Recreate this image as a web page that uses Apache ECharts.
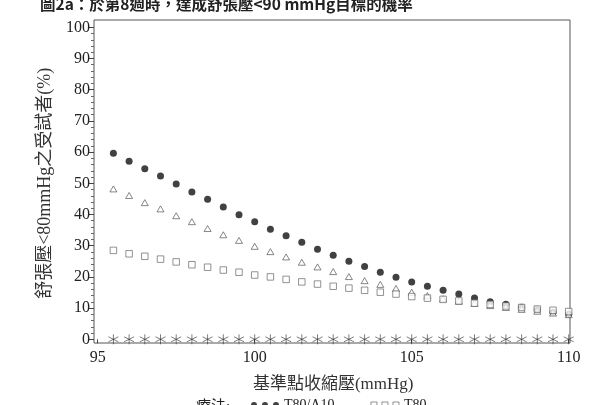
<!DOCTYPE html>
<html>
<head>
<meta charset="utf-8">
<script src="https://cdn.jsdelivr.net/npm/echarts@6/dist/echarts.min.js"></script>
<style>
  html, body { margin: 0; padding: 0; background: #fff; }
  #chart { width: 606px; height: 405px; }
</style>
</head>
<body>
<div id="chart"></div>
<script>
// Baseline systolic pressure (mmHg)
const baselineSBP = [95.5, 96, 96.5, 97, 97.5, 98, 98.5, 99, 99.5, 100,
                     100.5, 101, 101.5, 102, 102.5, 103, 103.5, 104, 104.5, 105,
                     105.5, 106, 106.5, 107, 107.5, 108, 108.5, 109, 109.5, 110];

// Percentage of subjects reaching DBP < 80 mmHg, per treatment
const t80a10 = [59.6, 57.1, 54.7, 52.3, 49.8, 47.2, 44.9, 42.4, 39.9, 37.7,
                35.3, 33.2, 31.1, 28.9, 26.9, 25.0, 23.3, 21.5, 19.9, 18.4,
                17.0, 15.7, 14.5, 13.2, 12.0, 11.2, 10.3, 9.5, 8.7, 8.0];
const a10 = [48.2, 46.1, 43.8, 41.8, 39.6, 37.7, 35.5, 33.5, 31.7, 29.8,
             28.1, 26.4, 24.7, 23.2, 21.7, 20.1, 18.8, 17.6, 16.3, 15.1,
             14.0, 13.0, 12.2, 11.5, 10.8, 10.2, 9.6, 9.0, 8.4, 7.9];
const t80 = [28.5, 27.4, 26.6, 25.7, 24.8, 23.9, 23.1, 22.2, 21.5, 20.6,
             20.0, 19.2, 18.4, 17.7, 17.0, 16.4, 15.7, 15.1, 14.5, 13.7,
             13.2, 12.8, 12.3, 11.6, 11.2, 10.7, 10.2, 9.7, 9.3, 8.9];
const placebo = [0, 0, 0, 0, 0, 0, 0, 0, 0, 0,
                 0, 0, 0, 0, 0, 0, 0, 0, 0, 0,
                 0, 0, 0, 0, 0, 0, 0, 0, 0, 0];

const xTicks = [95, 100, 105, 110];
const yTicks = [0, 10, 20, 30, 40, 50, 60, 70, 80, 90, 100];

const titleText = '圖2a：於第8週時，達成舒張壓<90 mmHg目標的機率';
const xName = '基準點收縮壓(mmHg)';
const yName = '舒張壓<80mmHg之受試者(%)';
const legendLead = '療法:';

const serif = '"Liberation Serif", "Noto Sans CJK TC", serif';
const pair = (ys) => baselineSBP.map((x, i) => [x, ys[i]]);

const starPath = 'path://M0,-5L0,5M-4.33,-2.5L4.33,2.5M-4.33,2.5L4.33,-2.5';
const dotsIcon = 'path://M0,3a3,3 0 1,0 6,0a3,3 0 1,0 -6,0z M11,3a3,3 0 1,0 6,0a3,3 0 1,0 -6,0z M22,3a3,3 0 1,0 6,0a3,3 0 1,0 -6,0z';
const boxesIcon = 'path://M0,0h6v6h-6z M11,0h6v6h-6z M22,0h6v6h-6z';

const chart = echarts.init(document.getElementById('chart'), null, { renderer: 'canvas' });

chart.setOption({
  animation: false,
  backgroundColor: '#fff',
  title: [
    {
      text: titleText,
      left: 40, top: -4, padding: 0,
      textStyle: { fontFamily: '"Noto Sans CJK TC", sans-serif', fontSize: 15.5, fontWeight: 'bold', color: '#222' }
    },
    {
      text: legendLead,
      left: 196, top: 400, padding: 0,
      textStyle: { fontFamily: serif, fontSize: 15, fontWeight: 'normal', color: '#222' }
    }
  ],
  legend: {
    data: [
      { name: 'T80/A10', icon: dotsIcon, itemStyle: { color: '#111' } },
      { name: 'T80', icon: boxesIcon, itemStyle: { color: '#fff', borderColor: '#555', borderWidth: 0.8 } }
    ],
    left: 251, top: 398, padding: 0,
    itemWidth: 28, itemHeight: 6, itemGap: 36,
    textStyle: { fontFamily: serif, fontSize: 14, color: '#222' }
  },
  grid: [
    // outer frame
    { left: 94, right: 36, top: 20, bottom: 62, show: true, borderColor: '#555', borderWidth: 1, backgroundColor: 'transparent' },
    // data area
    { left: 97.7, right: 37.3, top: 27.3, bottom: 65.7, show: false }
  ],
  xAxis: [
    { gridIndex: 0, type: 'value', min: 0, max: 1, show: false },
    {
      gridIndex: 1, type: 'value', min: xTicks[0], max: xTicks[xTicks.length - 1], interval: 5,
      offset: 3.7,
      axisLine: { show: false },
      axisTick: { show: true, length: 4, lineStyle: { color: '#444' } },
      splitLine: { show: false },
      axisLabel: { fontFamily: serif, fontSize: 16, color: '#222', margin: 7 },
      name: xName, nameLocation: 'middle', nameGap: 33,
      nameTextStyle: { fontFamily: serif, fontSize: 17, color: '#333' }
    }
  ],
  yAxis: [
    { gridIndex: 0, type: 'value', min: 0, max: 1, show: false },
    {
      gridIndex: 1, type: 'value', min: yTicks[0], max: yTicks[yTicks.length - 1], interval: 10,
      offset: 3.7,
      axisLine: { show: false },
      axisTick: { show: true, length: 5, lineStyle: { color: '#444' } },
      minorTick: { show: true, splitNumber: 5, length: 3, lineStyle: { color: '#666' } },
      splitLine: { show: false },
      minorSplitLine: { show: false },
      axisLabel: { fontFamily: serif, fontSize: 16, color: '#222', margin: 4 },
      name: yName, nameLocation: 'middle', nameGap: 40, nameRotate: 90,
      nameTextStyle: { fontFamily: serif, fontSize: 18, color: '#333' }
    }
  ],
  series: [
    {
      name: 'T80/A10', type: 'scatter', xAxisIndex: 1, yAxisIndex: 1, clip: false,
      symbol: 'circle', symbolSize: 7, data: pair(t80a10),
      itemStyle: { color: '#111' }
    },
    {
      name: 'A10', type: 'scatter', xAxisIndex: 1, yAxisIndex: 1, clip: false,
      symbol: 'triangle', symbolSize: [7, 6], data: pair(a10),
      itemStyle: { color: '#fff', borderColor: '#444', borderWidth: 0.8 }
    },
    {
      name: 'T80', type: 'scatter', xAxisIndex: 1, yAxisIndex: 1, clip: false,
      symbol: 'rect', symbolSize: 6.5, data: pair(t80),
      itemStyle: { color: '#fff', borderColor: '#555', borderWidth: 0.8 }
    },
    {
      name: '安慰劑', type: 'scatter', xAxisIndex: 1, yAxisIndex: 1, clip: false,
      symbol: starPath, symbolSize: [10, 10], data: pair(placebo),
      itemStyle: { color: 'none', borderColor: '#333', borderWidth: 0.8 }
    }
  ]
});
</script>
</body>
</html>
